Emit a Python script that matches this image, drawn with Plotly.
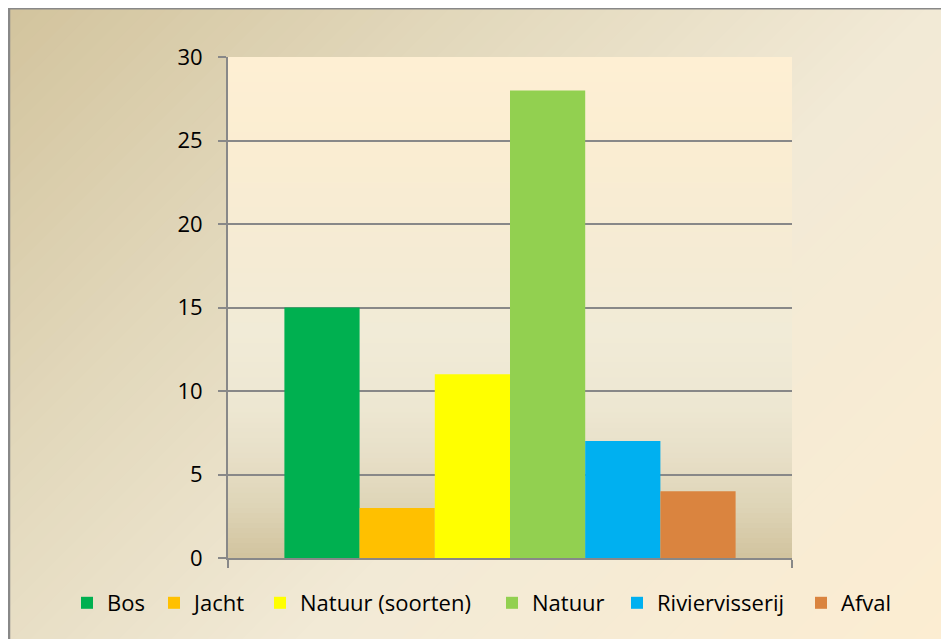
import plotly.graph_objects as go

# ---- data ----
categories = ["Bos", "Jacht", "Natuur (soorten)", "Natuur", "Riviervisserij", "Afval"]
values = [15, 3, 11, 28, 7, 4]
y_ticks = [0, 5, 10, 15, 20, 25, 30]

# ---- style ----
colors = ["#00B050", "#FFC000", "#FFFF00", "#92D050", "#00B0F0", "#DA843F"]
legend_text_px = [107, 194, 300, 532, 657, 841]   # page x where each legend label starts
W, H = 949, 639
OFF = 8  # page body margin
ML, MR, MT, MB = 220, 165, 49, 89
PW, PH = W - ML - MR, H - MT - MB
FONT = "Open Sans"
GRAY = "#888888"


def px(x):
    """page pixel x -> paper coordinate"""
    return (x - OFF - ML) / PW


def py(y):
    """page pixel y -> paper coordinate"""
    return (H - MB - (y - OFF)) / PH


def lerp_stops(stops, t):
    for i in range(len(stops) - 1):
        t0, c0 = stops[i]
        t1, c1 = stops[i + 1]
        if t0 <= t <= t1:
            f = (t - t0) / (t1 - t0) if t1 > t0 else 0
            return "rgb(%d,%d,%d)" % tuple(round(c0[k] + (c1[k] - c0[k]) * f) for k in range(3))
    c = stops[-1][1]
    return "rgb(%d,%d,%d)" % c


shapes = []

# outer diagonal gradient (top-left tan -> bottom-right cream)
outer_stops = [
    (0.0, (210, 195, 156)),
    (0.3, (226, 216, 188)),
    (0.6, (242, 234, 214)),
    (1.0, (252, 237, 210)),
]
smax = W + H
N = 90
for i in range(N):
    a = smax * i / N - 1
    b = smax * (i + 1) / N + 1
    col = lerp_stops(outer_stops, (i + 0.5) / N)
    pts = [(a + 100, -100), (b + 100, -100), (b - 900, 900), (a - 900, 900)]
    path = "M" + " L".join("%f,%f" % (px(x), py(y)) for x, y in pts) + " Z"
    shapes.append(dict(type="path", xref="paper", yref="paper", path=path,
                       fillcolor=col, line=dict(width=0), layer="below"))

# plot-area vertical gradient (bottom tan -> top cream)
plot_stops = [
    (0.0, (209, 195, 158)),
    (0.1, (222, 212, 182)),
    (0.2, (231, 223, 199)),
    (0.3, (237, 231, 210)),
    (0.45, (241, 235, 215)),
    (0.6, (245, 235, 212)),
    (0.8, (250, 237, 210)),
    (1.0, (254, 239, 211)),
]
M = 100
for i in range(M):
    y0 = i / M
    y1 = min(1.0, (i + 1) / M + 0.004)
    col = lerp_stops(plot_stops, (i + 0.5) / M)
    shapes.append(dict(type="rect", xref="paper", yref="paper", x0=0, x1=1, y0=y0, y1=y1,
                       fillcolor=col, line=dict(width=0), layer="below"))

# outer border
shapes.append(dict(type="rect", xref="paper", yref="paper",
                   x0=px(9), x1=px(W + 40), y0=py(8.3), y1=py(H + 40),
                   line=dict(color=GRAY, width=2.5), fillcolor="rgba(0,0,0,0)", layer="above"))

fig = go.Figure()
legends = {}
for i, (name, v, c) in enumerate(zip(categories, values, colors)):
    key = "legend" if i == 0 else "legend%d" % (i + 1)
    fig.add_trace(go.Bar(x=["groep"], y=[v], name=name, legend=key,
                         marker=dict(color=c, line=dict(width=0)), hoverinfo="skip"))
    legends[key] = dict(orientation="h", x=px(legend_text_px[i] - 40), xanchor="left",
                        y=py(603), yanchor="middle", borderwidth=0,
                        font=dict(family=FONT, size=22, color="black"),
                        bgcolor="rgba(0,0,0,0)", itemclick=False, itemdoubleclick=False)

fig.update_layout(
    width=W, height=H,
    margin=dict(l=ML, r=MR, t=MT, b=MB, pad=0, autoexpand=False),
    paper_bgcolor="rgba(0,0,0,0)",
    plot_bgcolor="rgba(0,0,0,0)",
    barmode="group",
    bargap=0.2,
    bargroupgap=0,
    font=dict(family=FONT, size=22, color="black"),
    shapes=shapes,
    showlegend=True,
    xaxis=dict(type="category", showticklabels=False, showline=True, linecolor=GRAY, linewidth=2,
               ticks="outside", tickson="boundaries", ticklen=8, tickwidth=2, tickcolor=GRAY,
               showgrid=False, zeroline=False, fixedrange=True, automargin=False),
    yaxis=dict(range=[0, 30], tickvals=y_ticks, ticktext=[str(t) for t in y_ticks],
               showline=True, linecolor=GRAY, linewidth=2,
               ticks="outside", ticklen=8, tickwidth=2, tickcolor=GRAY,
               showgrid=True, gridcolor=GRAY, gridwidth=2, zeroline=False,
               ticklabelstandoff=11, tickfont=dict(family=FONT, size=22, color="black"),
               fixedrange=True, automargin=False),
)
fig.update_layout(**legends)

fig.write_html("out.html", config={"displayModeBar": False})
